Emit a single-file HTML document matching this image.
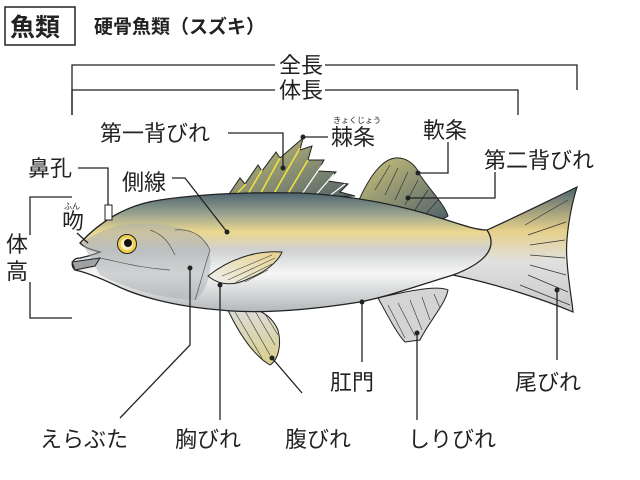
<!DOCTYPE html><html><head><meta charset="utf-8"><style>
body{margin:0;background:#fff}
svg{display:block}
text{font-family:"Liberation Sans","Noto Sans CJK JP",sans-serif;fill:#222}
</style></head><body>
<svg width="640" height="480" viewBox="0 0 640 480" xmlns="http://www.w3.org/2000/svg">
<defs>
<linearGradient id="body" x1="0" y1="0" x2="0" y2="1">
<stop offset="0" stop-color="#4e6470"/><stop offset="0.18" stop-color="#9aa490"/><stop offset="0.33" stop-color="#ecd88e"/><stop offset="0.48" stop-color="#cfd1d1"/><stop offset="0.68" stop-color="#f6f6f6"/><stop offset="1" stop-color="#b4b8ba"/></linearGradient>
<linearGradient id="dfin" x1="0" y1="0" x2="1" y2="1"><stop offset="0" stop-color="#cdc47a"/><stop offset="1" stop-color="#4d606a"/></linearGradient>
<linearGradient id="tail" x1="0" y1="0" x2="0" y2="1"><stop offset="0" stop-color="#4e6470"/><stop offset="0.35" stop-color="#e6d08a"/><stop offset="0.6" stop-color="#e0e0e0"/><stop offset="1" stop-color="#c8c8c8"/></linearGradient>
<linearGradient id="pfin" x1="0" y1="1" x2="1" y2="0"><stop offset="0" stop-color="#f0f0f0"/><stop offset="1" stop-color="#e6d28e"/></linearGradient>
<linearGradient id="vfin" x1="0" y1="0" x2="0" y2="1"><stop offset="0" stop-color="#ddd"/><stop offset="1" stop-color="#d8cf8a"/></linearGradient>
</defs>
<rect x="5" y="7" width="70" height="38" fill="#fff" stroke="#222" stroke-width="1.5"/>
<text x="10" y="36" font-size="25" font-weight="bold">魚類</text>
<text x="94" y="33" font-size="19" font-weight="bold">硬骨魚類（スズキ）</text>
<g stroke="#222" stroke-width="1.3" fill="none">
<path d="M72,115 V65 H275 M325,65 H577 V90"/>
<path d="M72,115 V90 H275 M325,90 H518 V115"/>
<path d="M72,197 H30 V235 M30,282 V318 H72"/>
</g>
<text x="279" y="73" font-size="22">全長</text>
<text x="279" y="98" font-size="22">体長</text>
<text x="6" y="252" font-size="22">体</text>
<text x="6" y="279" font-size="22">高</text>
<path d="M225,200 L240,178 L245,184 L258,165 L262,171 L276,152 L280,158 L303,138 L300,150 L312,146 L308,160 L324,160 L318,171 L336,172 L328,181 L348,184 L340,192 L355,196 Z" fill="url(#dfin)" stroke="#222" stroke-width="1"/>
<g stroke="#f0e040" stroke-width="1.6"><path d="M232,199 L246,184 M245,199 L262,170 M258,198 L280,158 M272,197 L300,148 M286,197 L308,160"/></g>
<g stroke="#fff" stroke-width="1.2"><path d="M300,197 L322,165 M314,197 L334,174 M328,197 L345,184"/></g>
<path d="M358,202 C368,180 380,160 395,158 C405,157 415,163 420,175 C430,190 445,205 448,216 C440,222 425,222 420,222 Z" fill="url(#dfin)" stroke="#222" stroke-width="1"/>
<g stroke="#333" stroke-width="0.7"><path d="M375,190 L390,165 M385,195 L398,168 M395,200 L408,172 M405,205 L418,180 M415,210 L428,190 M425,215 L438,200"/></g>
<path d="M487,230 C520,215 550,200 577,187 C570,210 565,240 567,260 C568,280 572,300 573,312 C545,300 500,285 453,275 Z" fill="url(#tail)" stroke="#222" stroke-width="1.2"/>
<g stroke="#333" stroke-width="0.7"><path d="M525,225 L568,200 M528,235 L566,222 M530,245 L565,240 M530,255 L565,258 M530,265 L566,275 M528,275 L568,292 M520,285 L570,305"/></g>
<path d="M378,298 C390,320 398,335 405,342 L420,340 C430,320 445,305 448,290 C440,286 420,288 378,298 Z" fill="#d4d4d4" stroke="#222" stroke-width="1"/>
<g stroke="#333" stroke-width="0.6"><path d="M388,305 L405,338 M398,303 L415,336 M410,300 L422,330 M422,297 L430,320 M434,294 L440,308"/></g>
<path d="M226,306 C238,332 253,355 270,365 C278,360 282,345 278,330 C270,312 255,306 226,306 Z" fill="url(#vfin)" stroke="#222" stroke-width="1"/>
<g stroke="#333" stroke-width="0.6"><path d="M235,312 L262,358 M245,311 L270,355 M255,311 L275,345 M265,314 L278,335"/></g>
<path d="M80,243 C100,222 125,205 160,200 C200,194 250,192 300,193 C350,195 400,205 440,218 C460,224 475,230 487,230 C500,250 480,265 453,275 C420,285 390,296 360,302 C310,310 260,314 220,310 C170,306 135,295 115,285 C100,278 85,272 75,270 C70,265 72,258 80,258 C90,256 95,254 100,252 C92,250 85,248 80,243 Z" fill="url(#body)" stroke="#222" stroke-width="1.3"/>
<path d="M82,243 C95,233 110,226 130,224 C160,222 190,226 208,244 C214,268 208,290 195,300 C160,298 130,290 100,275 Z" fill="#a9aeb0" opacity="0.5"/>
<path d="M72,262 L100,258 L95,266 L75,270 Z" fill="#9ea2a4" stroke="#222" stroke-width="1"/>
<g stroke="#555" stroke-width="0.7" fill="none"><path d="M175,230 C195,228 205,240 210,250 C205,265 200,285 195,300 M100,258 C120,262 140,268 170,270 M150,230 C165,235 170,245 175,255"/></g>
<rect x="105" y="205" width="7" height="15" fill="#fff" stroke="#222" stroke-width="1"/>
<circle cx="127" cy="244" r="9.5" fill="#f0d050" stroke="#222" stroke-width="1"/>
<circle cx="127" cy="244" r="6" fill="#f8f0c0"/>
<circle cx="128" cy="243" r="4" fill="#111"/>
<path d="M208,276 C228,260 255,250 282,252 C278,262 265,272 250,278 C235,286 220,286 208,276 Z" fill="url(#pfin)" stroke="#222" stroke-width="1"/>
<g stroke="#444" stroke-width="0.6"><path d="M222,276 L272,255 M228,280 L275,258 M236,282 L272,264 M245,282 L268,270"/></g>
<g stroke="#222" stroke-width="1.3" fill="none">
<path d="M228,133 H283 V168"/>
<path d="M303,137 H328"/>
<path d="M448,142 V173 H418"/>
<path d="M495,172 V198 H408"/>
<path d="M78,168 H108 V205"/>
<path d="M172,178 H185 L227,232"/>
<path d="M77,233 L88,243"/>
<path d="M190,268 V345 L120,418"/>
<path d="M220,285 V420"/>
<path d="M272,358 L302,393"/>
<path d="M362,302 V362"/>
<path d="M417,333 V420"/>
<path d="M557,290 V360"/>
</g>
<g fill="#222"><circle cx="283" cy="168" r="2.5"/><circle cx="303" cy="137" r="2.5"/><circle cx="418" cy="173" r="2.5"/><circle cx="408" cy="198" r="2.5"/><circle cx="227" cy="232" r="2.5"/><circle cx="190" cy="268" r="2.5"/><circle cx="220" cy="285" r="2.5"/><circle cx="272" cy="358" r="2.5"/><circle cx="362" cy="302" r="2.5"/><circle cx="417" cy="333" r="2.5"/><circle cx="557" cy="290" r="2.5"/></g>
<g font-size="22">
<text x="100" y="141">第一背びれ</text>
<text x="331" y="145">棘条</text>
<text x="423" y="138">軟条</text>
<text x="484" y="168">第二背びれ</text>
<text x="28" y="176">鼻孔</text>
<text x="122" y="190">側線</text>
<text x="62" y="229">吻</text>
<text x="40" y="447">えらぶた</text>
<text x="175" y="447">胸びれ</text>
<text x="285" y="447">腹びれ</text>
<text x="330" y="390">肛門</text>
<text x="408" y="447">しりびれ</text>
<text x="515" y="390">尾びれ</text>
</g>
<text x="333" y="123" font-size="8">きょくじょう</text>
<text x="64" y="209" font-size="8">ふん</text>
</svg>
</body></html>
